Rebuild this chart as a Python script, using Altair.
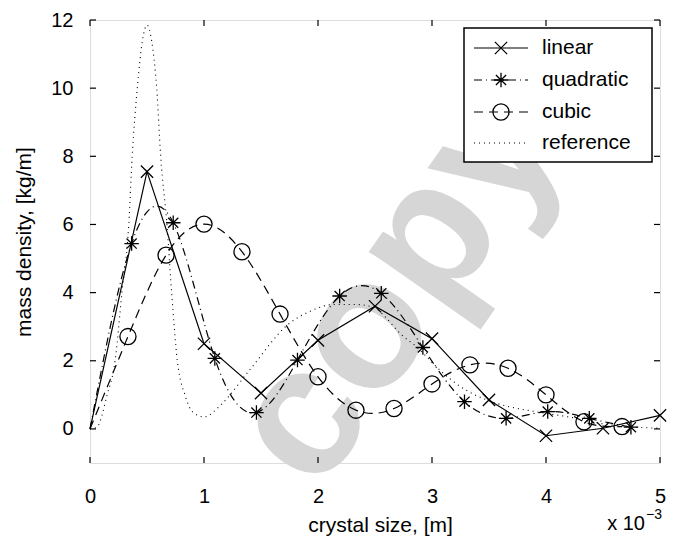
import altair as alt
import pandas as pd

# ---------------- data (x in units of 1e-3 m) ----------------
lin_x = [0, 0.5, 1.0, 1.5, 2.0, 2.5, 3.0, 3.5, 4.0, 4.5, 5.0]
lin_y = [0, 7.55, 2.5, 1.05, 2.6, 3.6, 2.65, 0.85, -0.2, 0.02, 0.4]

quad_x = [0, 0.365, 0.73, 1.095, 1.46, 1.82, 2.19, 2.555, 2.92, 3.285, 3.65, 4.015, 4.38, 4.745]
quad_y = [0, 5.44, 6.05, 2.07, 0.48, 2.02, 3.9, 3.98, 2.39, 0.8, 0.31, 0.51, 0.31, 0.05]

cub_x = [0, 0.333, 0.667, 1.0, 1.333, 1.667, 2.0, 2.333, 2.667, 3.0, 3.333, 3.667, 4.0, 4.333, 4.667]
cub_y = [0, 2.71, 5.1, 6.01, 5.2, 3.37, 1.53, 0.55, 0.6, 1.32, 1.88, 1.78, 1.0, 0.21, 0.07]

ref_x = [0, 0.06, 0.15, 0.22, 0.28, 0.34, 0.37, 0.415, 0.46, 0.5, 0.54, 0.585, 0.62, 0.675,
         0.716, 0.766, 0.833, 0.9, 1.0, 1.14, 1.4, 1.75, 1.93, 2.13, 2.34, 2.5, 2.6, 2.72,
         2.85, 3.1, 3.25, 3.48, 3.68, 3.92, 4.2, 4.5, 4.8, 5.0]
ref_y = [0, 0.05, 1.0, 2.0, 4.0, 6.0, 8.0, 10.0, 11.4, 11.85, 11.4, 10.0, 8.0, 6.0,
         4.0, 2.0, 1.0, 0.5, 0.35, 0.68, 1.73, 3.1, 3.45, 3.65, 3.65, 3.55, 3.25, 2.8,
         2.45, 1.63, 1.24, 0.85, 0.65, 0.5, 0.35, 0.15, 0.05, 0.02]

x_ticks = [0, 1, 2, 3, 4, 5]
y_ticks = [0, 2, 4, 6, 8, 10, 12]
labels = ["linear", "quadratic", "cubic", "reference"]

W, H = 570, 443
FONT = "Liberation Sans"
X_PATH = "M-1,-1L1,1M-1,1L1,-1"
STAR_PATH = "M-1,0L1,0M0,-1L0,1M-0.7,-0.7L0.7,0.7M-0.7,0.7L0.7,-0.7"

xs = alt.Scale(domain=[0, 5], nice=False, zero=False)
ys = alt.Scale(domain=[-1, 12], nice=False, zero=False)
xaxis = alt.Axis(values=x_ticks, title="crystal size, [m]", ticks=False, domain=False, grid=False,
                 labelFontSize=20, labelPadding=23, titleFontSize=21, titlePadding=8,
                 labelFlush=False, labelOverlap=False, titleX=290,
                 labelColor="black", titleColor="black", titleFontWeight="normal",
                 labelFont=FONT, titleFont=FONT)
yaxis = alt.Axis(values=y_ticks, title="mass density, [kg/m]", ticks=False, domain=False, grid=False,
                 labelFontSize=20, labelPadding=17, titleFontSize=21, titlePadding=16,
                 labelFlush=False, labelOverlap=False,
                 labelColor="black", titleColor="black", titleFontWeight="normal",
                 labelFont=FONT, titleFont=FONT)


def X():
    return alt.X("x:Q", scale=xs, axis=xaxis)


def Y():
    return alt.Y("y:Q", scale=ys, axis=yaxis)


df_lin = pd.DataFrame({"x": lin_x, "y": lin_y})
df_quad = pd.DataFrame({"x": quad_x, "y": quad_y})
df_cub = pd.DataFrame({"x": cub_x, "y": cub_y})
df_ref = pd.DataFrame({"x": ref_x, "y": ref_y})
df_xt = pd.DataFrame({"x": x_ticks})
df_yt = pd.DataFrame({"y": y_ticks})
one = pd.DataFrame({"k": [0]})

layers = []

# watermark
layers.append(alt.Chart(one).mark_text(
    text="copy", font=FONT, fontWeight="bold", fontSize=185, angle=305,
    color="#d6d6d6", align="center", baseline="middle"
).encode(x=alt.value(306), y=alt.value(266)))

# series lines
layers.append(alt.Chart(df_ref).mark_line(color="black", strokeWidth=1.1, strokeDash=[1, 4], interpolate="monotone").encode(x=X(), y=Y()))
layers.append(alt.Chart(df_lin).mark_line(color="black", strokeWidth=1.2).encode(x=X(), y=Y()))
layers.append(alt.Chart(df_quad).mark_line(color="black", strokeWidth=1.2, strokeDash=[8, 4, 1, 4], interpolate="natural").encode(x=X(), y=Y()))
layers.append(alt.Chart(df_cub).mark_line(color="black", strokeWidth=1.2, strokeDash=[9, 6], interpolate="natural").encode(x=X(), y=Y()))

# markers
layers.append(alt.Chart(df_lin).transform_filter("datum.x > 0").mark_point(
    shape=X_PATH, size=150, filled=False, stroke="black", strokeWidth=1.3, opacity=1).encode(x=X(), y=Y()))
layers.append(alt.Chart(df_quad).transform_filter("datum.x > 0").mark_point(
    shape=STAR_PATH, size=210, filled=False, stroke="black", strokeWidth=1.3, opacity=1).encode(x=X(), y=Y()))
layers.append(alt.Chart(df_cub).transform_filter("datum.x > 0").mark_point(
    shape="circle", size=260, filled=False, stroke="black", strokeWidth=1.3, opacity=1).encode(x=X(), y=Y()))

# inward ticks on all four sides
layers.append(alt.Chart(df_xt).mark_rule(color="black", strokeWidth=1.2).encode(x=X(), y=alt.value(H), y2=alt.value(H - 6)))
layers.append(alt.Chart(df_xt).mark_rule(color="black", strokeWidth=1.2).encode(x=X(), y=alt.value(0), y2=alt.value(6)))
layers.append(alt.Chart(df_yt).mark_rule(color="black", strokeWidth=1.2).encode(y=Y(), x=alt.value(0), x2=alt.value(6)))
layers.append(alt.Chart(df_yt).mark_rule(color="black", strokeWidth=1.2).encode(y=Y(), x=alt.value(W), x2=alt.value(W - 6)))

# legend
LX0, LX1, LY0, LY1 = 374, 562, 8, 142
layers.append(alt.Chart(one).mark_rect(fill="white", stroke="black", strokeWidth=1.5).encode(
    x=alt.value(LX0), x2=alt.value(LX1), y=alt.value(LY0), y2=alt.value(LY1)))
rows = [28, 60, 92, 123]
dashes = [None, [8, 4, 1, 4], [9, 6], [1, 4]]
shapes = [X_PATH, STAR_PATH, "circle", None]
msizes = [150, 210, 260, None]
for lab, ry, dsh, shp, ms in zip(labels, rows, dashes, shapes, msizes):
    kw = dict(color="black", strokeWidth=1.2)
    if dsh:
        kw["strokeDash"] = dsh
    layers.append(alt.Chart(one).mark_rule(**kw).encode(
        x=alt.value(384), x2=alt.value(438), y=alt.value(ry)))
    if shp:
        layers.append(alt.Chart(one).mark_point(shape=shp, size=ms, filled=False, stroke="black",
                                                strokeWidth=1.3, opacity=1).encode(
            x=alt.value(411), y=alt.value(ry)))
    layers.append(alt.Chart(one).mark_text(text=lab, align="left", baseline="middle", font=FONT,
                                           fontSize=21, color="black").encode(
        x=alt.value(452), y=alt.value(ry)))

# x 10^-3 multiplier
layers.append(alt.Chart(one).mark_text(text="x 10", align="right", baseline="middle", font=FONT,
                                       fontSize=20, color="black").encode(x=alt.value(555), y=alt.value(504)))
layers.append(alt.Chart(one).mark_text(text="\u22123", align="left", baseline="middle", font=FONT,
                                       fontSize=14, color="black").encode(x=alt.value(556), y=alt.value(495)))

chart = alt.layer(*layers).properties(
    width=W, height=H,
    autosize=alt.AutoSizeParams(type="none"),
    padding={"left": 82, "top": 12, "right": 12, "bottom": 73},
).configure_view(stroke="black", strokeWidth=1.5).configure(background="white")

chart.save("out.html", embed_options={"renderer": "svg", "actions": False})
